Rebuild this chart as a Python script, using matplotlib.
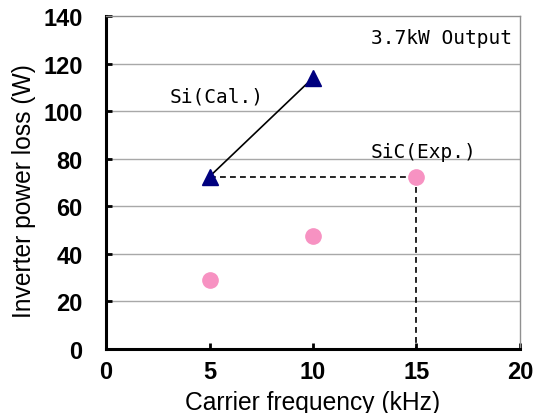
import matplotlib.pyplot as plt

# Si calculated loss (kHz, W)
si_freq = [5, 10]
si_loss = [72.5, 114]

# SiC measured loss (kHz, W)
sic_freq = [5, 10, 15]
sic_loss = [29, 47.5, 72.5]

xticks = [0, 5, 10, 15, 20]
yticks = [0, 20, 40, 60, 80, 100, 120, 140]

fig = plt.figure(figsize=(5.36, 4.14), dpi=100)
ax = fig.add_axes([0.198, 0.1546, 0.772, 0.8044])

ax.set_xlim(0, 20)
ax.set_ylim(0, 140)

# horizontal grid
for y in yticks[1:-1]:
    ax.axhline(y, color="#a8a8a8", lw=1.0, zorder=0)

# guide lines from the Si 5 kHz point to the SiC 15 kHz point
ax.plot([si_freq[0], sic_freq[2]], [si_loss[0], sic_loss[2]],
        ls=(0, (3.5, 2.5)), color="black", lw=1.2, zorder=1)
ax.plot([sic_freq[2], sic_freq[2]], [sic_loss[2], 0],
        ls=(0, (3.5, 2.5)), color="black", lw=1.2, zorder=1)

ax.plot(si_freq, si_loss, color="black", lw=1.2, zorder=2)
ax.plot(si_freq, si_loss, ls="none", marker="^", markersize=12,
        color="#00007f", zorder=3)
ax.plot(sic_freq, sic_loss, ls="none", marker="o", markersize=11,
        color="#f792c2", zorder=3)

mono = dict(family=["DejaVu Sans Mono"], fontsize=14)
ax.text(3.05, 106.5, "Si(Cal.)", ha="left", va="center", **mono)
ax.text(12.8, 83, "SiC(Exp.)", ha="left", va="center", **mono)
ax.text(19.6, 131, "3.7kW Output", ha="right", va="center", **mono)

for side in ("left", "bottom"):
    ax.spines[side].set_linewidth(2.2)
    ax.spines[side].set_color("black")
for side in ("top", "right"):
    ax.spines[side].set_linewidth(1.0)
    ax.spines[side].set_color("#909090")

ax.set_xticks(xticks)
ax.set_yticks(yticks)
tick_font = dict(family=["Liberation Sans", "DejaVu Sans"], weight="bold", fontsize=17)
ax.set_xticklabels([str(v) for v in xticks], **tick_font)
ax.set_yticklabels([str(v) for v in yticks], **tick_font)
ax.tick_params(direction="in", length=4, width=2, color="black")
ax.tick_params(axis="x", pad=8)
ax.tick_params(axis="y", pad=17)

label_font = dict(family=["Liberation Sans", "DejaVu Sans"], fontsize=17.7)
ax.set_xlabel("Carrier frequency (kHz)", labelpad=5, **label_font)
ax.set_ylabel("Inverter power loss (W)", **label_font)
ax.yaxis.set_label_coords(-0.17, 0.477)

fig.savefig("out.png", dpi=100)
